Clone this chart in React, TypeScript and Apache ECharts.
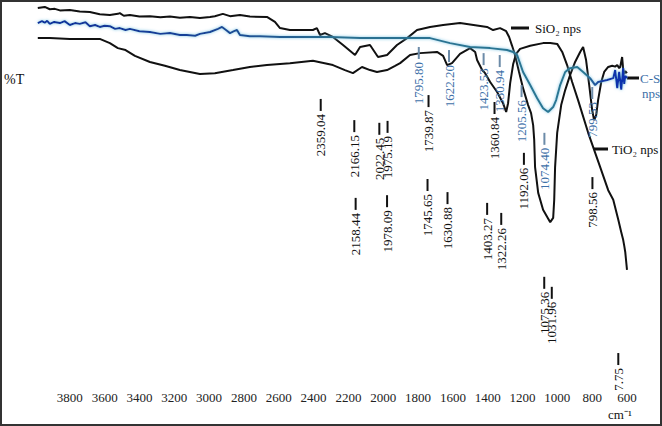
import React, { useEffect, useRef } from "react";
import * as echarts from "echarts";

// FTIR spectra: [wavenumber (cm-1), %T (arbitrary offset scale)]
const sio2Spectrum: number[][] = [
  [3984, 99.2], [3944, 99.5], [3915, 98.9], [3886, 99.0], [3857, 98.6], [3800, 98.7], [3743, 98.3],
  [3685, 98.2], [3628, 97.6], [3570, 97.4], [3524, 97.7], [3513, 97.9], [3490, 97.2], [3455, 97.4],
  [3400, 97.0], [3340, 97.1], [3280, 96.8], [3225, 97.0], [3168, 96.7], [3110, 96.9], [3053, 96.6],
  [2995, 96.9], [2967, 97.1], [2921, 97.7], [2880, 97.1], [2823, 97.4], [2766, 97.0], [2668, 96.9],
  [2622, 95.6], [2593, 94.0], [2536, 93.5], [2404, 93.5], [2381, 94.0], [2363, 92.2], [2335, 92.7],
  [2289, 91.7], [2231, 89.6], [2162, 87.0], [2133, 89.1], [2076, 89.6], [2030, 86.5], [1978, 87.0],
  [1921, 89.6], [1863, 91.4], [1806, 93.5], [1731, 94.3], [1656, 94.8], [1559, 95.3], [1404, 94.3],
  [1369, 93.5], [1329, 94.0], [1294, 93.2], [1277, 91.7], [1260, 89.4], [1243, 87.0], [1220, 82.6],
  [1197, 78.4], [1168, 74.0], [1151, 71.9], [1139, 68.8], [1133, 65.0], [1128, 57.9], [1110, 51.2],
  [1082, 46.8], [1041, 43.6], [1024, 44.7], [1018, 49.4], [1013, 57.9], [1001, 66.8], [978, 74.0],
  [955, 77.9], [927, 81.8], [898, 85.2], [869, 87.8], [852, 89.1], [835, 85.7], [817, 79.2],
  [800, 72.7], [789, 70.1], [777, 71.4], [766, 75.3], [748, 80.0], [731, 82.6], [708, 83.9],
  [685, 84.2], [668, 84.0], [656, 84.4], [645, 83.6], [639, 83.9], [628, 86.5], [622, 83.3],
  [616, 82.1], [610, 82.8], [600, 82.3],
];

const tio2Spectrum: number[][] = [
  [3984, 91.4], [3915, 91.4], [3800, 91.2], [3685, 91.2], [3628, 91.2], [3570, 90.1], [3524, 88.8],
  [3480, 88.3], [3426, 86.8], [3340, 85.2], [3254, 84.2], [3168, 83.1], [3053, 82.1], [2967, 82.3],
  [2863, 83.1], [2766, 83.9], [2668, 84.4], [2536, 84.9], [2404, 85.5], [2289, 84.4], [2220, 83.1],
  [2174, 82.3], [2122, 83.9], [2076, 83.1], [2036, 82.6], [1978, 83.1], [1932, 84.2], [1903, 84.9],
  [1846, 87.0], [1789, 87.5], [1691, 87.8], [1656, 86.8], [1633, 84.4], [1605, 84.9], [1559, 87.3],
  [1501, 88.8], [1472, 87.8], [1461, 85.7], [1432, 83.1], [1415, 82.3], [1386, 80.0], [1346, 77.4],
  [1312, 74.5], [1294, 72.2], [1283, 74.5], [1271, 79.7], [1254, 84.6], [1237, 87.3], [1214, 88.6],
  [1156, 89.4], [1082, 90.1], [1041, 90.1], [1001, 89.9], [972, 87.8], [944, 84.4], [915, 80.0],
  [881, 75.3], [823, 66.8], [754, 57.9], [708, 51.9], [679, 49.4], [650, 44.2], [633, 41.0],
  [622, 39.0], [616, 37.5], [610, 35.8], [605, 33.5], [600, 31.2],
];

const csSpectrum: number[][] = [
  [3984, 95.3], [3960, 95.8], [3944, 95.4], [3930, 95.9], [3915, 95.1], [3890, 95.6], [3857, 95.3],
  [3830, 95.8], [3800, 94.8], [3770, 95.3], [3743, 95.1], [3710, 95.5], [3685, 94.5], [3655, 94.8],
  [3628, 94.3], [3600, 94.6], [3570, 94.5], [3540, 93.8], [3513, 94.0], [3480, 93.5], [3455, 93.8],
  [3400, 93.2], [3340, 93.0], [3280, 92.5], [3225, 92.7], [3168, 92.2], [3128, 92.2], [3080, 92.0],
  [3053, 92.5], [2995, 93.0], [2949, 93.8], [2926, 94.3], [2903, 93.5], [2880, 92.7], [2857, 93.2],
  [2840, 93.5], [2823, 92.2], [2766, 91.9], [2708, 91.9], [2593, 91.7], [2478, 91.7], [2306, 91.7],
  [2133, 91.4], [1903, 91.4], [1731, 91.4], [1616, 90.1], [1501, 89.1], [1386, 88.8], [1289, 88.3],
  [1254, 87.8], [1231, 87.0], [1197, 82.6], [1156, 79.2], [1116, 75.8], [1082, 73.2], [1053, 72.2],
  [1024, 73.5], [1007, 75.3], [984, 79.2], [955, 82.6], [927, 83.6], [886, 83.9], [852, 82.6],
  [812, 81.0], [783, 79.2], [766, 80.0], [714, 80.5], [679, 81.0], [668, 83.1], [656, 78.4],
  [645, 82.6], [633, 78.0], [622, 83.6], [616, 79.5], [610, 81.6], [600, 81.0],
];

// Peak annotations: label text, wavenumber position, %T at the top of the marker
const tio2PeakLabels = ["2359.04", "2166.15", "2022.45", "1975.19", "1739.87", "1360.84", "1192.06", "798.56"];
const tio2PeakWn = [2359.04, 2166.15, 2022.45, 1975.19, 1739.87, 1360.84, 1192.06, 798.56];
const tio2PeakT = [75.6, 70.1, 69.4, 69.9, 76.6, 74.8, 61.6, 55.3];

const sio2PeakLabels = ["2158.44", "1978.09", "1745.65", "1630.88", "1403.27", "1322.26", "1075.36", "1031.96", "7.75"];
const sio2PeakWn = [2158.44, 1978.09, 1745.65, 1630.88, 1403.27, 1322.26, 1075.36, 1031.96, 650];
const sio2PeakT = [49.9, 50.6, 54.8, 51.4, 48.6, 46.0, 29.4, 26.8, 9.6];

const csPeakLabels = ["1795.80", "1622.20", "1423.53", "1330.94", "1205.56", "1074.40", "799.53"];
const csPeakWn = [1795.8, 1622.2, 1423.53, 1330.94, 1205.56, 1074.4, 799.53];
const csPeakT = [89.1, 88.3, 87.5, 87.0, 79.2, 66.8, 78.7];

const FONT = '"Liberation Serif", "Times New Roman", serif';
const BLUE_TEXT = "#3d70a8";

function peakSeries(labels: string[], wn: number[], t: number[], color: string, tickColor: string) {
  return {
    type: "custom",
    clip: false,
    silent: true,
    z: 5,
    data: wn.map((w, i) => [w, t[i]]),
    renderItem: (params: any, api: any) => {
      const p = api.coord([api.value(0), api.value(1)]);
      const text = labels[params.dataIndex];
      return {
        type: "group",
        children: [
          {
            type: "line",
            shape: { x1: p[0], y1: p[1], x2: p[0], y2: p[1] + 12 },
            style: { stroke: tickColor, lineWidth: 2 },
          },
          {
            type: "text",
            x: p[0],
            y: p[1] + 15,
            rotation: Math.PI / 2,
            style: {
              text,
              fill: color,
              fontSize: 13,
              fontFamily: FONT,
              align: "right",
              verticalAlign: "middle",
            },
          },
        ],
      };
    },
  };
}

export default function App() {
  const ref = useRef<HTMLDivElement>(null);

  useEffect(() => {
    if (!ref.current) return;
    const chart = echarts.init(ref.current, undefined, { renderer: "svg" });
    const blueGrad = new echarts.graphic.LinearGradient(0, 0, 1, 0, [
      { offset: 0, color: "#0f2f9c" },
      { offset: 0.3, color: "#1a4596" },
      { offset: 0.5, color: "#2a6f90" },
      { offset: 0.93, color: "#2b7894" },
      { offset: 0.96, color: "#1538a6" },
      { offset: 1, color: "#0d2fb0" },
    ]);
    chart.setOption({
      animation: false,
      backgroundColor: "#ffffff",
      grid: { left: 35, right: 35, top: 5, bottom: 36 },
      xAxis: {
        type: "value",
        min: 600,
        max: 4000,
        interval: 200,
        inverse: true,
        axisLine: { show: false },
        axisTick: { show: false },
        splitLine: { show: false },
        axisLabel: {
          margin: 1,
          fontSize: 13,
          fontFamily: FONT,
          color: "#222",
          showMaxLabel: false,
          formatter: (v: number) => (v >= 4000 ? "" : String(v)),
        },
      },
      yAxis: { type: "value", min: 0, max: 100, show: false },
      series: [
        {
          name: "SiO2 nps",
          type: "line",
          data: sio2Spectrum,
          showSymbol: false,
          symbol: "none",
          lineStyle: { color: "#111", width: 2 },
          z: 3,
        },
        {
          name: "TiO2 nps",
          type: "line",
          data: tio2Spectrum,
          showSymbol: false,
          symbol: "none",
          lineStyle: { color: "#111", width: 2 },
          z: 3,
        },
        {
          name: "C-S nps",
          type: "line",
          data: csSpectrum,
          showSymbol: false,
          symbol: "none",
          lineStyle: { color: blueGrad, width: 2, shadowColor: "rgba(110,190,225,0.9)", shadowBlur: 3 },
          z: 4,
        },
        peakSeries(tio2PeakLabels, tio2PeakWn, tio2PeakT, "#111", "#111"),
        peakSeries(sio2PeakLabels, sio2PeakWn, sio2PeakT, "#111", "#111"),
        peakSeries(csPeakLabels, csPeakWn, csPeakT, BLUE_TEXT, "#6c8ba8"),
      ],
      graphic: [
        { type: "rect", shape: { x: 1, y: 1, width: 660, height: 424 }, style: { fill: "none", stroke: "#333", lineWidth: 2 }, z: 10 },
        { type: "text", x: 4, y: 79, style: { text: "%T", fontSize: 14, fontFamily: FONT, fill: "#111", verticalAlign: "middle" } },
        { type: "line", shape: { x1: 511, y1: 28, x2: 529, y2: 28 }, style: { stroke: "#111", lineWidth: 3 } },
        { type: "text", x: 535, y: 28, style: { text: "SiO₂ nps", fontSize: 13, fontFamily: FONT, fill: "#111", verticalAlign: "middle" } },
        { type: "line", shape: { x1: 594, y1: 149, x2: 608, y2: 149 }, style: { stroke: "#111", lineWidth: 3 } },
        { type: "text", x: 612, y: 149, style: { text: "TiO₂ nps", fontSize: 13, fontFamily: FONT, fill: "#111", verticalAlign: "middle" } },
        { type: "line", shape: { x1: 627, y1: 78, x2: 639, y2: 78 }, style: { stroke: "#111", lineWidth: 3 } },
        { type: "text", x: 640, y: 78, style: { text: "C-S", fontSize: 13, fontFamily: FONT, fill: BLUE_TEXT, verticalAlign: "middle" } },
        { type: "text", x: 642, y: 93, style: { text: "nps", fontSize: 13, fontFamily: FONT, fill: BLUE_TEXT, verticalAlign: "middle" } },
        { type: "text", x: 608, y: 414, style: { text: "cm⁻¹", fontSize: 13, fontFamily: FONT, fill: "#111", verticalAlign: "middle" } },
      ],
    });
    return () => chart.dispose();
  }, []);

  return <div ref={ref} style={{ position: "absolute", left: 0, top: 0, width: 662, height: 426 }} />;
}
